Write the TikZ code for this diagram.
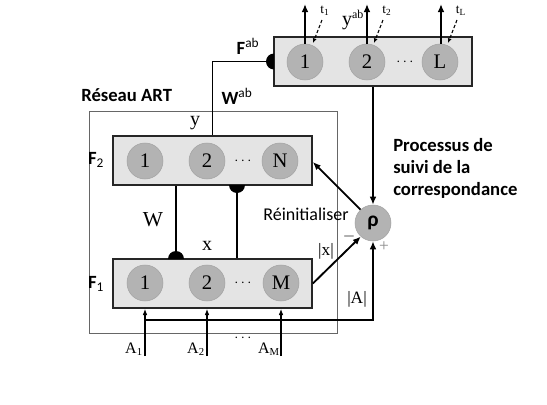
\documentclass[tikz,border=0pt]{standalone}
\usepackage{fontspec}
\setmainfont{Liberation Serif}
\newfontfamily\carl{Carlito}
\usetikzlibrary{arrows.meta}
\definecolor{boxfill}{HTML}{E4E4E4}
\definecolor{cirfill}{HTML}{B3B3B3}
\definecolor{cirline}{HTML}{A3A3A3}
\tikzset{
  layer/.style={draw=black!85, line width=1.5pt, fill=boxfill, rectangle, minimum width=149pt, minimum height=36.75pt, inner sep=0pt},
  unit/.style={circle, fill=cirfill, draw=cirline, line width=0.4pt, minimum size=27pt, inner sep=0pt, font=\fontsize{15.5}{16}\selectfont},
  conn/.style={line width=1.4pt, black},
  arr/.style={conn, -{Latex[length=6pt,width=5pt]}},
  thinarr/.style={line width=0.8pt, -{Latex[length=4.5pt,width=3.5pt]}},
  dasharr/.style={line width=0.8pt, dashed, dash pattern=on 2.5pt off 1.5pt, -{Latex[length=3.5pt,width=3pt]}},
  boldlbl/.style={font=\carl\bfseries\fontsize{14}{16.5}\selectfont, inner sep=0pt},
  serlbl/.style={font=\fontsize{14}{16}\selectfont, inner sep=0pt},
  smlbl/.style={font=\fontsize{10}{12}\selectfont, inner sep=0pt},
  dotlbl/.style={font=\fontsize{11}{12}\selectfont, inner sep=0pt},
}
\begin{document}
\begin{tikzpicture}[x=0.75pt, y=-0.75pt]
\useasboundingbox[fill=white] (0,0) rectangle (547,404);

% ART outer frame
\node[draw=black!60, line width=0.7pt, rectangle, minimum width=186pt, minimum height=166.5pt, inner sep=0pt] (art) at (213,222) {};

% layers
\node[layer, minimum width=148.5pt] (top) at (373,61.5) {};
\node[layer] (f2) at (212.5,160.5) {};
\node[layer] (f1) at (212.5,283.5) {};

% units top
\node[unit] (a1) at (305,62) {1};
\node[unit] (a2) at (367,62) {2};
\node[unit] (aL) at (440,62) {L};
\node[dotlbl] (adots) at (405,62) {$\cdots$};
% units F2
\node[unit] (b1) at (145,161) {1};
\node[unit] (b2) at (207,161) {2};
\node[unit] (bN) at (280,161) {N};
\node[dotlbl] (bdots) at (243,161) {$\cdots$};
% units F1
\node[unit] (c1) at (145,283) {1};
\node[unit] (c2) at (207,283) {2};
\node[unit] (cM) at (281,283) {M};
\node[dotlbl] (cdots) at (243,283) {$\cdots$};

% rho
\node[unit] (rho) at (373,223) {\carl\bfseries\fontsize{16}{18}\selectfont ρ};

% outputs of top layer
\coordinate (o1) at (305,4);
\coordinate (o2) at (367,4);
\coordinate (oL) at (441,4);
\draw[arr] (a1.north) -- (o1);
\draw[arr] (a2.north) -- (o2);
\draw[arr] (aL.north -| oL) -- (oL);
\coordinate (d1s) at (322,20); \coordinate (d1e) at (313,43);
\coordinate (d2s) at (383,20); \coordinate (d2e) at (374,43);
\coordinate (dLs) at (457,20); \coordinate (dLe) at (448,43);
\draw[dasharr] (d1s) -- (d1e);
\draw[dasharr] (d2s) -- (d2e);
\draw[dasharr] (dLs) -- (dLe);
\node[smlbl] (t1) at (325,11) {t\textsubscript{1}};
\node[smlbl] (t2) at (387,11) {t\textsubscript{2}};
\node[smlbl] (tL) at (461,11) {t\textsubscript{L}};
\node[serlbl, font=\fontsize{15}{16}\selectfont] (yab) at (353,20) {y\textsuperscript{\fontsize{9}{10}\selectfont ab}};

% map field connection
\coordinate (sab) at (274,61.5);
\draw[conn] (f2.north) |- (sab);
\fill (sab) ++(0,-8) arc[start angle=90, end angle=270, radius=6pt] -- cycle;
\node[boldlbl] (Fab) at (248,46) {F\textsuperscript{\fontsize{10}{11}\selectfont\mdseries ab}};
\node[boldlbl] (Wab) at (237,96) {W\textsuperscript{\fontsize{10}{11}\selectfont\mdseries ab}};
\node[boldlbl, anchor=west] (art lbl) at (81,95) {Réseau ART};
\node[serlbl, font=\fontsize{15}{16}\selectfont] (ylbl) at (195,123) {y};

% F1-F2 connections
\coordinate (wl) at (176,259);
\coordinate (wr) at (237,185);
\draw[conn] (wl |- f2.south) -- (wl);
\draw[conn] (wr) -- (wr |- f1.north);
\fill (wl) ++(6pt,0) arc[start angle=0, end angle=180, radius=6pt] -- cycle;
\fill (wr) ++(6pt,0) arc[start angle=0, end angle=-180, radius=6pt] -- cycle;
\node[serlbl, font=\fontsize{16}{16}\selectfont] (Wlbl) at (153,220) {W};
\node[serlbl, font=\fontsize{15}{16}\selectfont] (xlbl) at (207,246) {x};

\node[boldlbl] (F2lbl) at (96,160) {F\textsubscript{\fontsize{10}{11}\selectfont\mdseries 2}};
\node[boldlbl] (F1lbl) at (96,284) {F\textsubscript{\fontsize{10}{11}\selectfont\mdseries 1}};

% vigilance
\draw[arr] (top.south -| rho) -- (rho.north);
\draw[arr] (rho.133) -- (f2.east |- 0,162);
\draw[arr] (f1.east) -- (rho.228);
\coordinate (abar) at (145,320);
\draw[arr] (abar) -| (rho.south);
\node[font=\carl\fontsize{13.5}{16}\selectfont, inner sep=0pt] (reinit) at (306,214) {Réinitialiser};
\node[inner sep=0pt, font=\fontsize{12}{12}\selectfont] (minus) at (349,236) {$-$};
\node[serlbl, font=\fontsize{13}{14}\selectfont] (xabs) at (326,251) {|x|};
\node[serlbl, font=\fontsize{13}{14}\selectfont] (aabs) at (357,299) {|A|};
\node[serlbl, text=black!45, font=\fontsize{13}{14}\selectfont] (plus) at (384,247) {+};
\node[boldlbl, anchor=west, align=left] (proc) at (393,168) {Processus de\\suivi de la\\correspondance};

% inputs
\coordinate (in1) at (145,356);
\coordinate (in2) at (207,356);
\coordinate (inM) at (281,356);
\draw[thinarr] (in1) -- (in1 |- f1.south);
\draw[thinarr] (in2) -- (in2 |- f1.south);
\draw[thinarr] (inM) -- (inM |- f1.south);
\node[serlbl, font=\fontsize{12}{13}\selectfont] (A1) at (134,349) {A\textsubscript{1}};
\node[serlbl, font=\fontsize{12}{13}\selectfont] (A2) at (196,349) {A\textsubscript{2}};
\node[serlbl, font=\fontsize{12}{13}\selectfont] (AM) at (269,349) {A\textsubscript{M}};
\node[dotlbl] (indots) at (243,338) {$\cdots$};
\end{tikzpicture}
\end{document}
